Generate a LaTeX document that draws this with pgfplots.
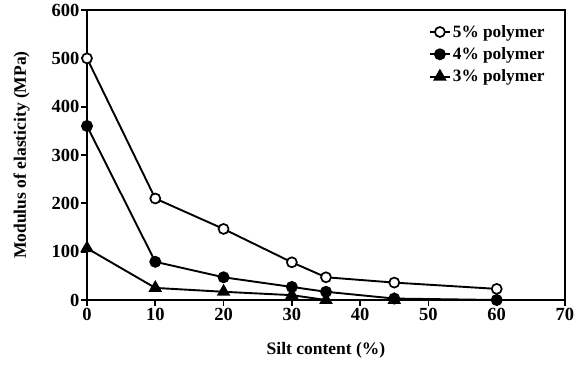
\documentclass[border=0pt]{standalone}
\usepackage{fontspec}
\setmainfont{Liberation Serif}
\usepackage{pgfplots}
\pgfplotsset{compat=1.18}
\begin{document}
\begin{tikzpicture}
\begin{axis}[
  name=ax, at={(0,0)}, anchor=south west,
  scale only axis, width=478pt, height=290pt,
  xmin=0, xmax=70, ymin=0, ymax=600,
  xtick={0,10,...,70}, ytick={0,100,...,600},
  axis line style={line width=2.2pt},
  tick style={line width=1.8pt, black},
  tick align=outside, major tick length=6pt,
  xtick pos=bottom, ytick pos=left,
  /pgf/number format/assume math mode=true,
  ticklabel style={font=\fontsize{18.5}{20}\selectfont\bfseries},
  xticklabel style={yshift=1pt},
  yticklabel style={xshift=2pt},
  xlabel={Silt content (\%)}, ylabel={Modulus of elasticity (MPa)},
  label style={font=\fontsize{17.5}{19}\selectfont\bfseries},
  xlabel style={at={(axis description cs:0.5,-0.175)}, anchor=center},
  ylabel style={at={(axis description cs:-0.137,0.5)}, anchor=center, rotate=0},
  legend style={draw=none, fill=none, at={(0.962,0.955)}, anchor=north east,
    font=\fontsize{17.3}{19}\selectfont\bfseries, row sep=4.8pt, inner sep=0pt},
  legend cell align=left,
  legend image code/.code={\draw[#1] (0pt,0pt) -- (20pt,0pt); \draw[#1, mark repeat=1] plot coordinates {(10pt,0pt)};},
  every axis plot/.append style={line width=1.9pt, black, mark size=5pt},
  clip=false,
]
\addplot[mark=*, mark options={fill=white, line width=1.7pt}] coordinates {(0,500) (10,210) (20,147) (30,78) (35,47) (45,36) (60,23)};
\addlegendentry{5\% polymer}
\addplot[mark=*, mark options={fill=black}] coordinates {(0,360) (10,79) (20,47) (30,27) (35,17) (45,3) (60,0)};
\addlegendentry{4\% polymer}
\addplot[mark=triangle*, mark options={fill=black}, mark size=6pt] coordinates {(0,107) (10,25) (20,17) (30,10) (35,0) (45,0)};
\addlegendentry{3\% polymer}
\end{axis}
\pgfresetboundingbox
\path[use as bounding box] (-87pt,-66pt) rectangle (494pt,300pt);
\end{tikzpicture}
\end{document}
